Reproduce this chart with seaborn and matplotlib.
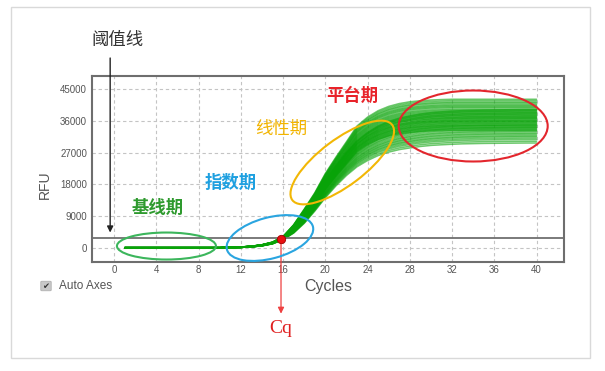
import numpy as np
import pandas as pd
import matplotlib
matplotlib.use("Agg")
import matplotlib.pyplot as plt
import seaborn as sns
from matplotlib.patches import Ellipse, Rectangle, FancyBboxPatch
from matplotlib.transforms import IdentityTransform

# ---------------- data ----------------
cycles = list(range(1, 41))
# normalised amplification shape of the earliest / steepest curves
shape_early = [0, 0, 0, 0, 0, 0, 0, 0, 0, 0,
               0.002, 0.005, 0.010, 0.020, 0.038, 0.076, 0.155, 0.260, 0.370, 0.500,
               0.610, 0.714, 0.820, 0.880, 0.923, 0.952, 0.971, 0.983, 0.990, 0.995,
               0.998, 1, 1, 1, 1, 1, 1, 1, 1, 1]
# normalised amplification shape of the later / flatter curves
shape_late = [0, 0, 0, 0, 0, 0, 0, 0, 0, 0,
              0.001, 0.003, 0.008, 0.018, 0.037, 0.077, 0.140, 0.233, 0.350, 0.477,
              0.590, 0.690, 0.773, 0.833, 0.880, 0.913, 0.937, 0.953, 0.967, 0.977,
              0.983, 0.988, 0.992, 0.994, 0.996, 0.997, 0.998, 0.999, 1, 1]
# plateau RFU of each well
plateaus_early = [42100, 41700, 41300, 41000, 40600, 40300, 40000, 39700, 39300,
                  39000, 38700, 38400, 38100, 37800, 37500, 37200, 36900, 36600,
                  36200, 35900, 35600, 35200, 34800, 34500, 34100, 33700, 33300]
plateaus_late = [39200, 38800, 38300, 37900, 37400, 37000, 36600, 36200, 35800,
                 35400, 35000, 34700, 34300, 34000, 33600, 33200, 32900, 32500,
                 32200, 31800, 31500, 31100, 30700, 30200, 29700]
threshold = 2700
cq_cycle = 15.8
x_ticks = [0, 4, 8, 12, 16, 20, 24, 28, 32, 36, 40]
y_ticks = [0, 9000, 18000, 27000, 36000, 45000]
y_tick_labels = ["0", "9000", "18000", "27000", "36000", "45000"]

rows = []
k = 0
for shape, plist in ((shape_early, plateaus_early), (shape_late, plateaus_late)):
    for p in plist:
        for c, s in zip(cycles, shape):
            rows.append({"Cycle": c, "RFU": p * s, "well": k})
        k += 1
df = pd.DataFrame(rows)

# ---------------- figure ----------------
sns.set_theme(style="white")
plt.rcParams["font.family"] = ["Liberation Sans", "Noto Sans CJK SC", "DejaVu Sans"]

W, H = 605, 371
fig = plt.figure(figsize=(W / 100, H / 100), dpi=100)
fig.patch.set_facecolor("white")
ax = fig.add_axes([92 / W, 1 - 262 / H, (564 - 92) / W, (262 - 76) / H])
ax.set_facecolor("white")

sns.lineplot(data=df, x="Cycle", y="RFU", units="well", estimator=None,
             color="#08a308", lw=1.1, alpha=0.6, legend=False, ax=ax)

ax.set_xlim(-2.1, 42.6)
ax.set_ylim(-4050, 48700)
ax.set_xticks(x_ticks)
ax.set_yticks(y_ticks)
ax.set_yticklabels(y_tick_labels)
ax.tick_params(axis="both", length=0, labelsize=7, labelcolor="#555555")
ax.tick_params(axis="y", pad=3.5)
ax.tick_params(axis="x", pad=2.5)
ax.grid(True, ls=(0, (3, 2.5)), color="#c4c4c4", lw=0.8)
ax.set_axisbelow(True)
for sp in ax.spines.values():
    sp.set_visible(True)
    sp.set_color("#6e6e6e")
    sp.set_linewidth(1.5)

ax.set_xlabel("Cycles", fontsize=11.5, color="#555555")
ax.set_ylabel("RFU", fontsize=10, color="#555555")
ax.xaxis.set_label_coords(0.5, -0.133)
ax.xaxis.label.set_va("center")
ax.yaxis.set_label_coords(-0.0996, 0.414)
ax.yaxis.label.set_va("center")

# threshold line
ax.axhline(threshold, color="#6f6f6f", lw=1.3, zorder=3)

# Cq point and arrow
ax.plot([cq_cycle], [2500], "o", color="#e81010", mec="#a00000", mew=0.6, ms=6, zorder=6)
ax.annotate("", xy=(cq_cycle, -18700), xytext=(cq_cycle, 2000),
            arrowprops=dict(arrowstyle="-|>", color="#ee4040", lw=0.9,
                            mutation_scale=9, shrinkA=0, shrinkB=0),
            annotation_clip=False)
ax.text(cq_cycle, -22800, "Cq", fontsize=14, color="#e02020",
        family="Liberation Serif", ha="center", va="center", clip_on=False)

# threshold label arrow
ax.annotate("", xy=(-0.38, 4300), xytext=(-0.38, 53800),
            arrowprops=dict(arrowstyle="-|>", color="#222222", lw=1.0,
                            mutation_scale=9, shrinkA=0, shrinkB=0),
            annotation_clip=False)
fig.text(117.5 / W, 1 - 40 / H, "阈值线", fontsize=12.5, color="#333333",
         ha="center", va="center")

# phase labels
ax.text(22.5, 43300, "平台期", fontsize=12.5, color="#e8232a", weight="bold",
        ha="center", va="center")
ax.text(15.8, 33670, "线性期", fontsize=12.5, color="#f2b400",
        ha="center", va="center")
ax.text(11.0, 18640, "指数期", fontsize=12.5, color="#1ea0e0", weight="bold",
        ha="center", va="center")
ax.text(4.1, 11540, "基线期", fontsize=12.5, color="#2e9a2e", weight="bold",
        ha="center", va="center")

# phase ellipses (size in pixels, centred at data positions)
def px_ellipse(cx, cy, w, h, angle, color):
    x0, y0 = ax.transData.transform((cx, cy))
    e = Ellipse((x0, y0), w, h, angle=angle, transform=IdentityTransform(),
                fill=False, ec=color, lw=1.5, clip_on=False, zorder=7)
    fig.add_artist(e)

px_ellipse(4.95, 480, 99, 27, 0, "#3cb65c")
px_ellipse(14.75, 2750, 89, 41, 15, "#2aa5e0")
px_ellipse(21.6, 24170, 125, 46, 37, "#f2b705")
px_ellipse(34.0, 34520, 149, 71, 0, "#e3262d")

# "Auto Axes" checkbox
fig.add_artist(FancyBboxPatch((42 / W, 1 - 290 / H), 8 / W, 8 / H,
                              boxstyle="round,pad=0.002", transform=fig.transFigure,
                              fc="#c8c8c8", ec="#b0b0b0", lw=0.6))
fig.text(46 / W, 1 - 286 / H, "✔", fontsize=6, color="#333333",
         family="DejaVu Sans", ha="center", va="center")
fig.text(59 / W, 1 - 286 / H, "Auto Axes", fontsize=8.5, color="#555555",
         ha="left", va="center")

# outer frame
fig.add_artist(Rectangle((11 / W, 1 - 358 / H), (590 - 11) / W, (358 - 7) / H,
                         transform=fig.transFigure, fill=False, ec="#d9d9d9", lw=1))

fig.savefig("out.png", dpi=100, facecolor="white")
